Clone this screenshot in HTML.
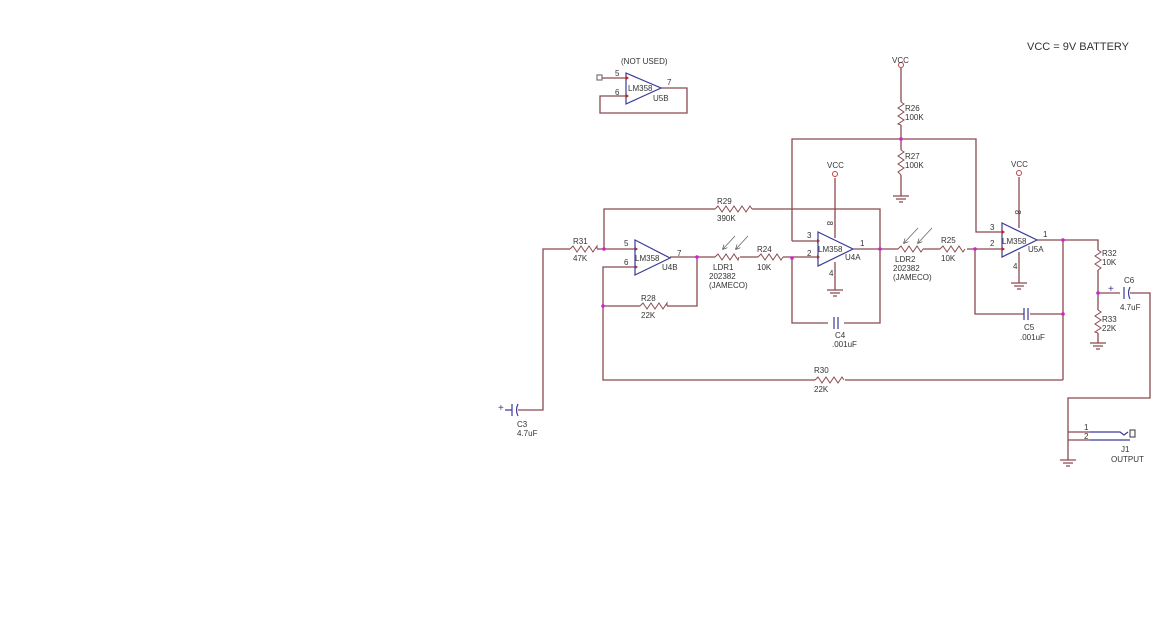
<!DOCTYPE html>
<html><head><style>
html,body{margin:0;padding:0;background:#fff;}
svg{display:block;}
text{font-family:"Liberation Sans",sans-serif;font-size:8px;fill:#333;}
.w{stroke:#8a4a52;stroke-width:1.3;fill:none;}
.o{stroke:#3a3a9a;stroke-width:1.2;fill:none;}
.r{stroke:#8a4a52;stroke-width:1;fill:none;}
.d{fill:#d020d0;}
</style></head><body>
<svg width="1161" height="631" viewBox="0 0 1161 631">
<defs><marker id="a" markerWidth="6" markerHeight="6" refX="5" refY="3" orient="auto"><path d="M0 0L6 3L0 6" fill="none" stroke="#444" stroke-width="0.8"/></marker></defs>
<text x="1027" y="50" style="font-size:11px">VCC = 9V BATTERY</text>

<!-- U5B -->
<text x="621" y="64">(NOT USED)</text>
<rect x="597" y="75" width="5" height="5" class="o" style="stroke:#777"/>
<path class="w" d="M602 78H626 M661 88H687V113H600V96H626"/>
<path class="o" d="M626 73L661 88L626 104Z"/>
<text x="615" y="76">5</text><text x="615" y="95">6</text><text x="667" y="85">7</text>
<text x="628" y="91">LM358</text><text x="653" y="101">U5B</text>

<!-- left section wires -->
<path class="w" d="M518 410H543V249H570 M597 249H635 M604 249V209H715 M752 209H880V323H844 M828 323H792V258 M635 267H603V380H815 M845 380H1063"/>
<path class="w" d="M603 306H640 M667 306H697V257H670 M697 257H715 M740 257H758 M783 257H817 M792 241H817 M792 241V139H976V232H1003"/>
<path class="r" d="M570 249l3-3 4 6 4-6 4 6 4-6 4 6 4-6 0 3"/>
<path class="r" d="M715 209l3-3 4 6 4-6 4 6 4-6 4 6 4-6 4 6 4-6 2 3"/>
<path class="r" d="M640 306l3-3 4 6 4-6 4 6 4-6 4 6 4-6 0 3"/>
<path class="r" d="M815 380l3-3 4 6 4-6 4 6 4-6 4 6 4-6 2 3"/>
<path class="r" d="M715 257l3-3 4 6 4-6 4 6 4-6 4 6 1-3"/>
<path class="r" d="M758 257l3-3 4 6 4-6 4 6 4-6 4 6 2-3"/>
<path stroke="#666" stroke-width="0.8" marker-end="url(#a)" d="M735 236l-12 13"/>
<path stroke="#666" stroke-width="0.8" marker-end="url(#a)" d="M748 236l-12 13"/>
<!-- C3 -->
<path class="o" d="M505 410H512 M512 404V416 M518 404Q515 410 518 416"/>
<text x="498" y="411" style="fill:#3a3a9a;font-size:10px">+</text>
<text x="517" y="427">C3</text><text x="517" y="436">4.7uF</text>
<text x="573" y="244">R31</text><text x="573" y="261">47K</text>
<text x="717" y="204">R29</text><text x="717" y="221">390K</text>
<text x="641" y="301">R28</text><text x="641" y="318">22K</text>
<text x="814" y="373">R30</text><text x="814" y="392">22K</text>
<text x="713" y="270">LDR1</text><text x="709" y="279">202382</text><text x="709" y="288">(JAMECO)</text>
<text x="757" y="252">R24</text><text x="757" y="270">10K</text>

<!-- U4B -->
<path class="o" d="M635 240L670 258L635 275Z"/>
<text x="624" y="246">5</text><text x="624" y="265">6</text><text x="677" y="256">7</text>
<text x="635" y="261">LM358</text><text x="662" y="270">U4B</text>

<!-- U4A -->
<path class="o" d="M818 232L853 249L818 266Z"/>
<path class="w" d="M835 178V238 M835 262V290 M853 249H880 M880 249H898"/>
<circle cx="835" cy="174" r="2.5" fill="none" stroke="#c04040"/>
<text x="827" y="168">VCC</text>
<path class="w" d="M827 290H843 M830 293H840 M833 296H837"/>
<text x="807" y="238">3</text><text x="807" y="256">2</text><text x="860" y="246">1</text>
<text x="818" y="252">LM358</text><text x="845" y="260">U4A</text>
<text x="826" y="226" transform="rotate(90 829 224)">8</text><text x="829" y="276">4</text>
<path class="o" d="M834 317V329 M838 317V329"/>
<text x="835" y="338">C4</text><text x="832" y="347">.001uF</text>

<!-- R26 R27 -->
<circle cx="901" cy="65" r="2.5" fill="none" stroke="#c04040"/>
<text x="892" y="63">VCC</text>
<path class="w" d="M901 68V102 M901 125V150 M901 175V196 M893 196H909 M896 199H906 M899 202H903"/>
<path class="r" d="M901 102l3 2-6 4 6 4-6 4 6 4-6 4 3 1"/>
<path class="r" d="M901 150l3 2-6 4 6 4-6 4 6 4-6 4 3 3"/>
<text x="905" y="111">R26</text><text x="905" y="120">100K</text>
<text x="905" y="159">R27</text><text x="905" y="168">100K</text>

<!-- LDR2 R25 -->
<path class="w" d="M923 249H940 M967 249H1003 M975 249V314H1024 M1030 314H1063 M1037 240H1098V250 M1063 240V380"/>
<path class="r" d="M898 249l3-3 4 6 4-6 4 6 4-6 4 6 2-3"/>
<path class="r" d="M940 249l3-3 4 6 4-6 4 6 4-6 4 6 2-3"/>
<path stroke="#666" stroke-width="0.8" marker-end="url(#a)" d="M918 228l-14 15"/>
<path stroke="#666" stroke-width="0.8" marker-end="url(#a)" d="M932 228l-14 15"/>
<text x="895" y="262">LDR2</text><text x="893" y="271">202382</text><text x="893" y="280">(JAMECO)</text>
<text x="941" y="243">R25</text><text x="941" y="261">10K</text>
<path class="o" d="M1024 308V320 M1028 308V320"/>
<text x="1024" y="330">C5</text><text x="1020" y="340">.001uF</text>

<!-- U5A -->
<path class="o" d="M1002 223L1037 240L1002 257Z"/>
<path class="w" d="M1019 177V228 M1019 252V283 M1011 283H1027 M1014 286H1024 M1017 289H1021"/>
<circle cx="1019" cy="173" r="2.5" fill="none" stroke="#c04040"/>
<text x="1011" y="167">VCC</text>
<text x="990" y="230">3</text><text x="990" y="246">2</text><text x="1043" y="237">1</text>
<text x="1002" y="244">LM358</text><text x="1028" y="252">U5A</text>
<text x="1012" y="213" transform="rotate(90 1015 213)">8</text><text x="1013" y="269">4</text>

<!-- R32 R33 C6 -->
<path class="w" d="M1098 270V310 M1098 333V343 M1090 343H1106 M1093 346H1103 M1096 349H1100 M1098 293H1120 M1130 293H1150V398H1068V460 M1060 460H1076 M1063 463H1073 M1066 466H1070"/>
<path class="r" d="M1098 250l3 2-6 4 6 4-6 4 6 4-3 2"/>
<path class="r" d="M1098 310l3 2-6 4 6 4-6 4 6 4-6 4 3 1"/>
<text x="1102" y="256">R32</text><text x="1102" y="265">10K</text>
<text x="1102" y="322">R33</text><text x="1102" y="331">22K</text>
<path class="o" d="M1124 287V299 M1130 287Q1127 293 1130 299"/>
<text x="1108" y="292" style="fill:#3a3a9a;font-size:10px">+</text>
<text x="1124" y="283">C6</text><text x="1120" y="310">4.7uF</text>
<!-- J1 -->
<path class="w" d="M1068 432H1090 M1068 440H1090"/>
<path class="o" d="M1090 432H1120l4 3 4-3 M1090 440H1130"/>
<rect x="1130" y="430" width="5" height="7" fill="none" stroke="#333"/>
<text x="1084" y="430">1</text><text x="1084" y="439">2</text>
<text x="1121" y="452">J1</text><text x="1111" y="462">OUTPUT</text>

<!-- nodes -->
<g class="d">
<circle cx="604" cy="249" r="1.8"/><circle cx="603" cy="306" r="1.8"/><circle cx="697" cy="257" r="1.8"/>
<circle cx="792" cy="258" r="1.8"/><circle cx="880" cy="249" r="1.8"/><circle cx="901" cy="139" r="1.8"/>
<circle cx="975" cy="249" r="1.8"/><circle cx="1063" cy="240" r="1.8"/><circle cx="1063" cy="314" r="1.8"/>
<circle cx="1098" cy="293" r="1.8"/>
</g>
<g fill="#c02020">
<path d="M626 76l3 2-3 2Z M626 94l3 2-3 2Z M635 247l3 2-3 2Z M635 265l3 2-3 2Z M817 239l3 2-3 2Z M817 255l3 2-3 2Z M1002 230l3 2-3 2Z M1002 247l3 2-3 2Z"/>
</g>
</svg>
</body></html>
